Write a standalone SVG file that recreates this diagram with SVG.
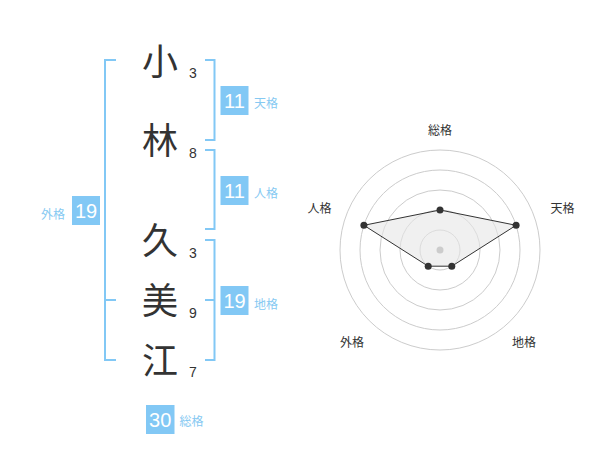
<svg xmlns="http://www.w3.org/2000/svg" width="600" height="470" viewBox="0 0 600 470">
<style>
.bk{fill:none;stroke:#82c8f5;stroke-width:2}
.box{fill:#82c8f5}
.bn{font-family:"Liberation Sans",Arial,sans-serif;font-size:20px;fill:#fff;text-anchor:middle}
.lb{font-family:"Noto Sans CJK JP",sans-serif;font-size:12px;fill:#86c9f2}
.ch{font-family:"Noto Sans CJK JP",sans-serif;font-size:36px;fill:#333;text-anchor:middle}
.st{font-family:"Liberation Sans",Arial,sans-serif;font-size:14px;fill:#333;text-anchor:middle}
.rl{font-family:"Noto Sans CJK JP",sans-serif;font-size:12px;fill:#333;text-anchor:middle}
.ring{fill:none;stroke:#cccccc;stroke-width:1}
.dot{fill:#333}
</style>
<rect width="600" height="470" fill="#fff"/>
<g id="connectors">
<path class="bk" d="M116,60 H105 V360 H116 M105,300 H116"/>
<path class="bk" d="M205,60 H214.5 V140 H205"/>
<path class="bk" d="M205,150 H214.5 V229 H205"/>
<path class="bk" d="M205,240 H214.5 V360 H205 M214.5,300 H205"/>
</g>
<g id="name">
<g id="char1"><text class="ch" x="160" y="74.5">小</text><text class="st" x="193" y="78">3</text></g>
<g id="char2"><text class="ch" x="160" y="153.5">林</text><text class="st" x="193" y="158">8</text></g>
<g id="char3"><text class="ch" x="160" y="253.5">久</text><text class="st" x="193" y="258">3</text></g>
<g id="char4"><text class="ch" x="160" y="313.5">美</text><text class="st" x="193" y="318">9</text></g>
<g id="char5"><text class="ch" x="160" y="373.5">江</text><text class="st" x="193" y="377">7</text></g>
</g>
<g id="tenkaku"><rect class="box" x="220.5" y="86" width="28" height="29"/><text class="bn" x="234.5" y="107.7">11</text><text class="lb" x="254" y="108.4">天格</text></g>
<g id="jinkaku"><rect class="box" x="220.5" y="176" width="28" height="29"/><text class="bn" x="234.5" y="197.7">11</text><text class="lb" x="254" y="198">人格</text></g>
<g id="chikaku"><rect class="box" x="220.5" y="286" width="28" height="29"/><text class="bn" x="234.5" y="307.7">19</text><text class="lb" x="254" y="308.6">地格</text></g>
<g id="gaikaku"><rect class="box" x="72" y="196" width="28" height="29"/><text class="bn" x="86" y="217.7">19</text><text class="lb" x="65" y="219" text-anchor="end">外格</text></g>
<g id="soukaku"><rect class="box" x="146" y="405" width="28.5" height="29"/><text class="bn" x="160.2" y="426.7">30</text><text class="lb" x="179.5" y="426">総格</text></g>
<g id="radar">
<circle class="ring" cx="440" cy="250" r="20"/>
<circle class="ring" cx="440" cy="250" r="40"/>
<circle class="ring" cx="440" cy="250" r="60"/>
<circle class="ring" cx="440" cy="250" r="80"/>
<circle class="ring" cx="440" cy="250" r="100"/>
<polygon points="440,210 516.1,225.3 451.8,266.2 428.2,266.2 363.9,225.3" fill="#e6e6e6" fill-opacity="0.6" stroke="#333" stroke-width="1"/>
<circle cx="440" cy="250" r="3.5" fill="#cccccc"/>
<circle class="dot" cx="440" cy="210" r="3.5"/>
<circle class="dot" cx="516.1" cy="225.3" r="3.5"/>
<circle class="dot" cx="451.8" cy="266.2" r="3.5"/>
<circle class="dot" cx="428.2" cy="266.2" r="3.5"/>
<circle class="dot" cx="363.9" cy="225.3" r="3.5"/>
<text class="rl" x="440" y="135">総格</text>
<text class="rl" x="562.5" y="213.3">天格</text>
<text class="rl" x="319.5" y="213.3">人格</text>
<text class="rl" x="352" y="346.6">外格</text>
<text class="rl" x="524" y="346.6">地格</text>
</g>
</svg>
